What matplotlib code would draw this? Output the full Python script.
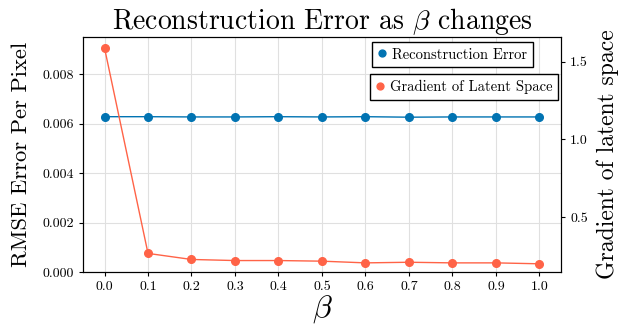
import matplotlib
matplotlib.use("Agg")
import matplotlib.pyplot as plt
import numpy as np

plt.rcParams["font.family"] = "serif"
plt.rcParams["font.serif"] = ["cmr10"]
plt.rcParams["mathtext.fontset"] = "cm"
plt.rcParams["axes.formatter.use_mathtext"] = True

beta = [0.0, 0.1, 0.2, 0.3, 0.4, 0.5, 0.6, 0.7, 0.8, 0.9, 1.0]
recon_error = [0.00628, 0.00628, 0.00627, 0.00627, 0.00628, 0.00627,
               0.00628, 0.00626, 0.00627, 0.00627, 0.00627]
latent_grad = [1.59, 0.265, 0.226, 0.219, 0.219, 0.215,
               0.204, 0.208, 0.204, 0.204, 0.198]

blue = "#0173b2"
red = "#ff6347"

fig = plt.figure(figsize=(6.27, 3.25), dpi=100)
ax = fig.add_axes([0.132, 0.163, 0.763, 0.723])
ax2 = ax.twinx()

l1, = ax.plot(beta, recon_error, color=blue, lw=1.0, marker="o", ms=5.5,
              label="Reconstruction Error")
l2, = ax2.plot(beta, latent_grad, color=red, lw=1.0, marker="o", ms=5.5,
               label="Gradient of Latent Space")

ax.set_ylim(0, 0.0095)
ax2.set_ylim(0.145, 1.66)
ax.set_xticks(beta)
ax.set_xticklabels([f"{b:.1f}" for b in beta])
ax.set_yticks([0.0, 0.002, 0.004, 0.006, 0.008])
ax.set_yticklabels([f"{v:.3f}" for v in [0.0, 0.002, 0.004, 0.006, 0.008]])
ax2.set_yticks([0.5, 1.0, 1.5])
ax2.set_yticklabels(["0.5", "1.0", "1.5"])

ax.grid(True, color="#e0e0e0", lw=0.8)
ax.set_axisbelow(True)
for a in (ax, ax2):
    a.tick_params(labelsize=10, length=3, width=0.8)

ax.set_title(r"Reconstruction Error as $\beta$ changes", fontsize=20, pad=5)
ax.set_xlabel(r"$\beta$", fontsize=23, labelpad=0)
ax.set_ylabel("RMSE Error Per Pixel", fontsize=16.3, labelpad=8)
ax2.set_ylabel("Gradient of latent space", fontsize=17, labelpad=6)

leg1 = ax.legend(handles=[l1], loc="upper right", bbox_to_anchor=(0.941, 0.979),
                 borderaxespad=0, fancybox=False, edgecolor="black", framealpha=1,
                 fontsize=10.5, handlelength=0.6, handletextpad=0.4, borderpad=0.4,
                 markerscale=0.9)
leg2 = ax2.legend(handles=[l2], loc="upper right", bbox_to_anchor=(0.994, 0.843),
                  borderaxespad=0, fancybox=False, edgecolor="black", framealpha=1,
                  fontsize=10.5, handlelength=0.6, handletextpad=0.4, borderpad=0.4,
                  markerscale=0.9)
for lg in (leg1, leg2):
    lg.get_frame().set_linewidth(1.0)
    for h in lg.legend_handles:
        h.set_linestyle("none")

fig.savefig("out.png", dpi=100)
